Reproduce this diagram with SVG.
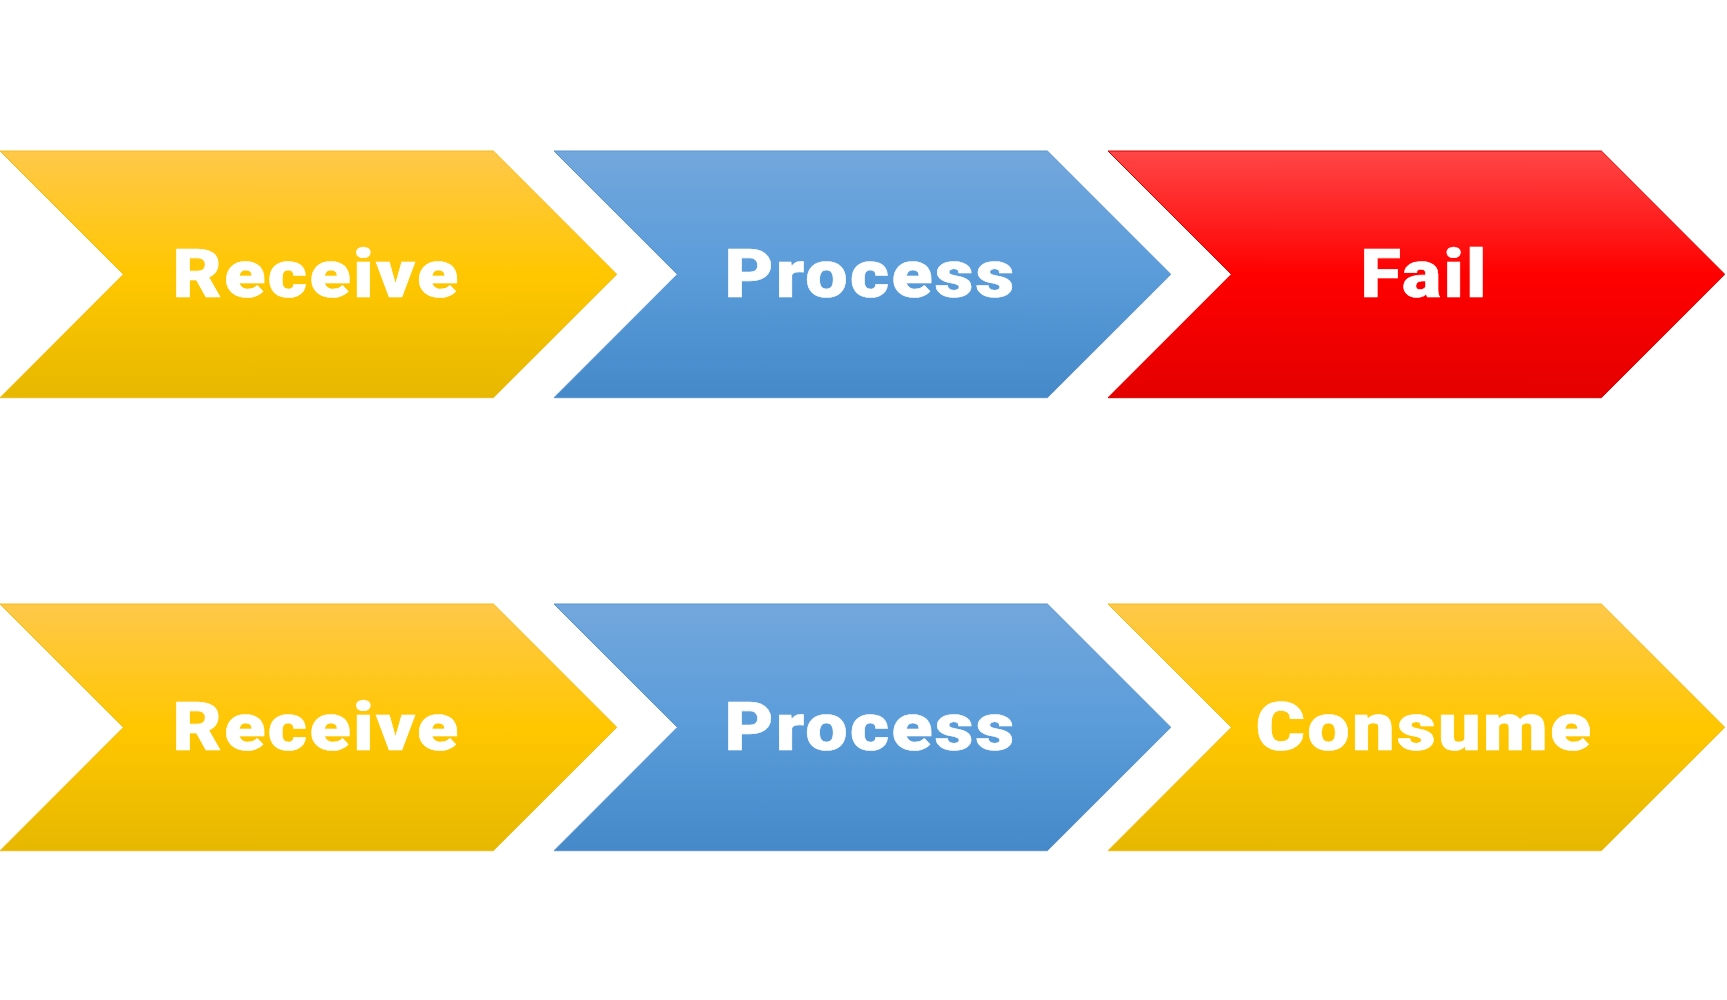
<svg xmlns="http://www.w3.org/2000/svg" width="1727" height="1000" viewBox="0 0 1727 1000">
<defs>
<linearGradient id="gY" x1="0" y1="0" x2="0" y2="1">
<stop offset="0" stop-color="#FFC84A"/>
<stop offset="0.5" stop-color="#FFC700"/>
<stop offset="1" stop-color="#E6B800"/>
</linearGradient>
<linearGradient id="gB" x1="0" y1="0" x2="0" y2="1">
<stop offset="0" stop-color="#72A7DC"/>
<stop offset="0.5" stop-color="#5A9CDA"/>
<stop offset="1" stop-color="#4589C8"/>
</linearGradient>
<linearGradient id="gR" x1="0" y1="0" x2="0" y2="1">
<stop offset="0" stop-color="#FF4646"/>
<stop offset="0.5" stop-color="#FF0000"/>
<stop offset="1" stop-color="#E40000"/>
</linearGradient>
<polygon id="chev" points="0,0 493.4,0 616.8,123.35 493.4,246.7 0,246.7 123.4,123.35"/>
</defs>
<style>
.y{fill:url(#gY);stroke:#F2BC1A;stroke-width:1}
.b{fill:url(#gB);stroke:#5B95CF;stroke-width:1}
.r{fill:url(#gR);stroke:#D80000;stroke-width:1}
.t{font-family:Roboto,"Liberation Sans",Arial,sans-serif;font-weight:900;font-size:67px;letter-spacing:2px;fill:#FFFFFF;stroke:#FFFFFF;stroke-width:0.6;text-anchor:middle}
</style>
<rect width="1727" height="1000" fill="#FFFFFF"/>
<g id="connectors"></g>
<g id="top-receive" transform="translate(0,151)">
<use href="#chev" class="y"/>
<text class="t" x="316.5" y="145.5" textLength="288" lengthAdjust="spacingAndGlyphs">Receive</text>
</g>
<g id="top-process" transform="translate(554,151)">
<use href="#chev" class="b"/>
<text class="t" x="316.5" y="145.5" textLength="292" lengthAdjust="spacingAndGlyphs">Process</text>
</g>
<g id="top-fail" transform="translate(1108,151)">
<use href="#chev" class="r"/>
<text class="t" x="316.5" y="145.5" textLength="128" lengthAdjust="spacingAndGlyphs">Fail</text>
</g>
<g id="bottom-receive" transform="translate(0,604)">
<use href="#chev" class="y"/>
<text class="t" x="316.5" y="145.5" textLength="288" lengthAdjust="spacingAndGlyphs">Receive</text>
</g>
<g id="bottom-process" transform="translate(554,604)">
<use href="#chev" class="b"/>
<text class="t" x="316.5" y="145.5" textLength="292" lengthAdjust="spacingAndGlyphs">Process</text>
</g>
<g id="bottom-consume" transform="translate(1108,604)">
<use href="#chev" class="y"/>
<text class="t" x="316.5" y="145.5" textLength="338" lengthAdjust="spacingAndGlyphs">Consume</text>
</g>
</svg>
